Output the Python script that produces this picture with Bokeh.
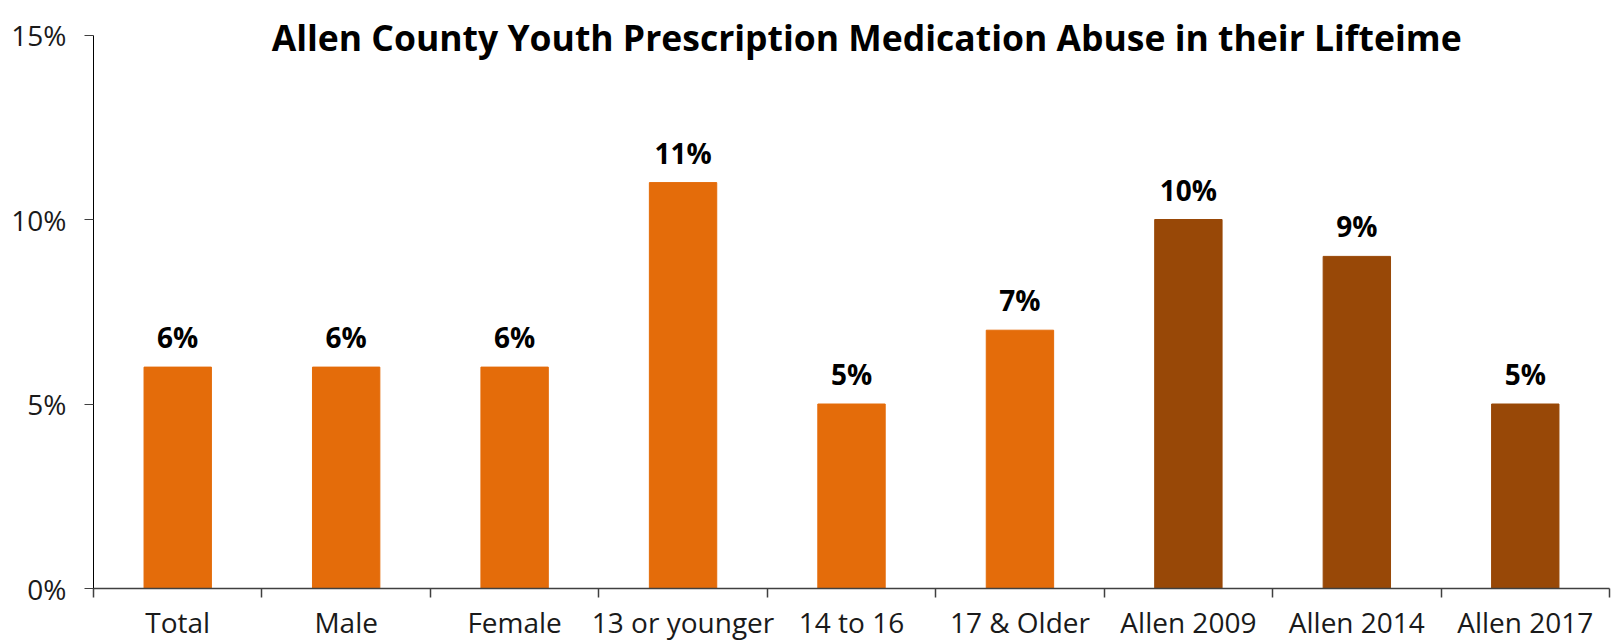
from bokeh.plotting import figure
from bokeh.models import (ColumnDataSource, Range1d, FixedTicker, CustomJSTickFormatter,
                          LinearAxis, LabelSet, Label, PrintfTickFormatter)
from bokeh.core.properties import value
from bokeh.embed import file_html
from bokeh.resources import INLINE

# ---- data ----
categories = ["Total", "Male", "Female", "13 or younger", "14 to 16", "17 & Older",
              "Allen 2009", "Allen 2014", "Allen 2017"]
values = [6, 6, 6, 11, 5, 7, 10, 9, 5]
groups = ["2017 subgroup"] * 6 + ["trend"] * 3
y_ticks = [0, 5, 10, 15]
title_text = "Allen County Youth Prescription Medication Abuse in their Lifteime"

group_colors = {"2017 subgroup": "#E46C0A", "trend": "#984807"}

n = len(categories)
xs = [i + 0.5 for i in range(n)]
source = ColumnDataSource(dict(
    x=xs,
    top=values,
    color=[group_colors[g] for g in groups],
    label=[f"{v}%" for v in values],
))

FONT = "Open Sans"

# frame spans to the top of the canvas; the axis line stops at 15%
y_max = y_ticks[-1]
y_end = y_max * 588 / (588 - 34.5)

p = figure(width=1614, height=643, output_backend="svg", toolbar_location=None,
           x_range=Range1d(0, n), y_range=Range1d(0, y_end),
           x_axis_type=None, y_axis_type=None,
           min_border_left=93, min_border_right=5, min_border_top=0, min_border_bottom=55)
p.outline_line_color = None
p.grid.visible = False
p.background_fill_color = "white"
p.border_fill_color = "white"

p.vbar(x="x", top="top", bottom=0, width=0.4, color="color", source=source)

labels = LabelSet(x="x", y="top", text="label", source=source, y_offset=19,
                  text_align="center", text_baseline="alphabetic",
                  text_font=value(FONT), text_font_style="bold", text_font_size="28px",
                  text_color="#000000")
p.add_layout(labels)

# y axis
yax = LinearAxis(ticker=FixedTicker(ticks=y_ticks, minor_ticks=[]),
                 formatter=PrintfTickFormatter(format="%d%%"), bounds=(0, y_max))
yax.axis_line_color = "#000000"
yax.axis_line_width = 1
yax.major_tick_out = 9
yax.major_tick_in = 0
yax.major_tick_line_color = "#404040"
yax.minor_tick_line_color = None
yax.major_label_text_font = FONT
yax.major_label_text_font_size = "28px"
yax.major_label_text_color = "#1a1a1a"
yax.major_label_standoff = 18
p.add_layout(yax, "left")

# x axis: labels at centers, tick marks at category boundaries
xax = LinearAxis(ticker=FixedTicker(ticks=xs, minor_ticks=list(range(n + 1))),
                 formatter=CustomJSTickFormatter(args=dict(cats=categories),
                                                 code="return cats[Math.floor(tick)];"))
xax.axis_line_color = "#404040"
xax.axis_line_width = 1.5
xax.major_tick_line_color = None
xax.major_tick_out = 0
xax.major_tick_in = 0
xax.minor_tick_line_color = "#404040"
xax.minor_tick_line_width = 1.5
xax.minor_tick_out = 9
xax.minor_tick_in = 0
xax.major_label_text_font = FONT
xax.major_label_text_font_size = "28px"
xax.major_label_text_color = "#1a1a1a"
xax.major_label_standoff = 5
p.add_layout(xax, "below")

title = Label(x=4.59, y=(588 - 36) / (588 - 34.5) * y_max, text=title_text,
              text_align="center", text_baseline="alphabetic", text_font=FONT,
              text_font_style="bold", text_font_size="35.5px", text_color="#000000")
p.add_layout(title)

open("out.html", "w").write(file_html(p, INLINE))
